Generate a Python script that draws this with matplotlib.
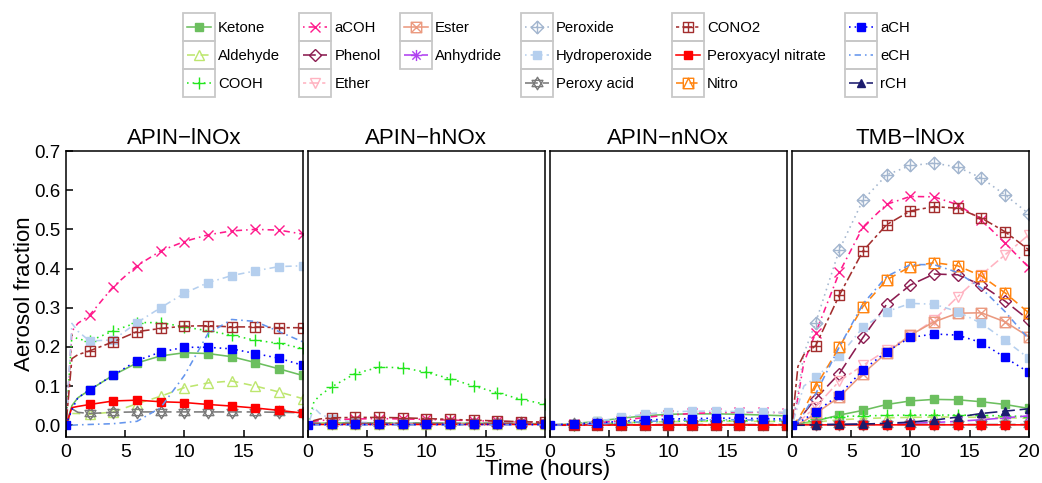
import matplotlib
matplotlib.use('Agg')
import matplotlib.pyplot as plt
from matplotlib.path import Path
from matplotlib.lines import Line2D
from matplotlib.patches import Rectangle, Patch
from matplotlib.legend_handler import HandlerBase

plt.rcParams['font.family'] = ['Liberation Sans', 'DejaVu Sans']

# ---------------- data ----------------
hours = [0, 0.5, 1, 2, 4, 6, 8, 10, 12, 14, 16, 18, 20]
panel_titles = ['APIN\u2212lNOx', 'APIN\u2212hNOx', 'APIN\u2212nNOx', 'TMB\u2212lNOx']
groups = ['Ketone', 'Aldehyde', 'COOH', 'aCOH', 'Phenol', 'Ether', 'Ester', 'Anhydride',
          'Peroxide', 'Hydroperoxide', 'Peroxy acid', 'CONO2', 'Peroxyacyl nitrate', 'Nitro',
          'aCH', 'eCH', 'rCH']

# APIN-lNOx
apin_l = {
    'Ketone':             [0, 0.050, 0.070, 0.090, 0.128, 0.159, 0.177, 0.185, 0.183, 0.175, 0.160, 0.144, 0.127],
    'Aldehyde':           [0, 0.030, 0.030, 0.028, 0.034, 0.055, 0.074, 0.096, 0.108, 0.113, 0.100, 0.085, 0.068],
    'COOH':               [0, 0.230, 0.220, 0.215, 0.241, 0.262, 0.262, 0.251, 0.241, 0.230, 0.217, 0.209, 0.196],
    'aCOH':               [0, 0.240, 0.260, 0.281, 0.354, 0.407, 0.445, 0.469, 0.486, 0.496, 0.500, 0.498, 0.488],
    'Hydroperoxide':      [0, 0.260, 0.240, 0.215, 0.218, 0.262, 0.300, 0.337, 0.364, 0.382, 0.394, 0.405, 0.407],
    'Peroxy acid':        [0, 0.042, 0.033, 0.030, 0.033, 0.034, 0.034, 0.034, 0.034, 0.034, 0.034, 0.033, 0.032],
    'CONO2':              [0, 0.170, 0.180, 0.190, 0.213, 0.239, 0.247, 0.253, 0.254, 0.251, 0.251, 0.249, 0.249],
    'Peroxyacyl nitrate': [0, 0.045, 0.048, 0.053, 0.062, 0.064, 0.060, 0.058, 0.053, 0.049, 0.044, 0.038, 0.031],
    'aCH':                [0, 0.040, 0.070, 0.091, 0.128, 0.165, 0.187, 0.199, 0.199, 0.195, 0.183, 0.171, 0.153],
    'eCH':                [0, 0.000, 0.001, 0.002, 0.004, 0.010, 0.045, 0.127, 0.234, 0.270, 0.265, 0.239, 0.213],
}
# APIN-hNOx
apin_h = {
    'Ketone':             [0, 0.004, 0.005, 0.006, 0.006, 0.006, 0.006, 0.006, 0.005, 0.005, 0.005, 0.004, 0.004],
    'Aldehyde':           [0, 0.002, 0.003, 0.003, 0.004, 0.004, 0.004, 0.004, 0.004, 0.003, 0.003, 0.003, 0.003],
    'COOH':               [0, 0.060, 0.076, 0.098, 0.132, 0.148, 0.147, 0.135, 0.119, 0.100, 0.083, 0.066, 0.054],
    'aCOH':               [0, 0.010, 0.012, 0.014, 0.016, 0.017, 0.016, 0.015, 0.013, 0.012, 0.010, 0.008, 0.007],
    'Hydroperoxide':      [0, 0.045, 0.030, 0.015, 0.008, 0.006, 0.005, 0.005, 0.004, 0.004, 0.004, 0.003, 0.003],
    'Peroxy acid':        [0, 0.006, 0.005, 0.005, 0.005, 0.005, 0.005, 0.005, 0.005, 0.005, 0.005, 0.005, 0.005],
    'CONO2':              [0, 0.012, 0.016, 0.019, 0.020, 0.020, 0.019, 0.017, 0.015, 0.013, 0.011, 0.009, 0.008],
    'Peroxyacyl nitrate': [0, 0.002, 0.002, 0.002, 0.002, 0.002, 0.002, 0.002, 0.002, 0.002, 0.002, 0.002, 0.002],
    'aCH':                [0, 0.002, 0.002, 0.002, 0.002, 0.002, 0.002, 0.002, 0.002, 0.002, 0.002, 0.002, 0.002],
    'eCH':                [0, 0.001, 0.001, 0.001, 0.001, 0.001, 0.001, 0.001, 0.001, 0.001, 0.001, 0.001, 0.001],
}
# APIN-nNOx
apin_n = {
    'Ketone':             [0, 0.001, 0.002, 0.004, 0.010, 0.018, 0.024, 0.028, 0.029, 0.029, 0.028, 0.026, 0.024],
    'Aldehyde':           [0, 0.001, 0.001, 0.002, 0.004, 0.006, 0.008, 0.009, 0.010, 0.010, 0.010, 0.010, 0.009],
    'COOH':               [0, 0.000, 0.001, 0.001, 0.003, 0.006, 0.008, 0.010, 0.011, 0.012, 0.012, 0.012, 0.011],
    'aCOH':               [0, 0.000, 0.001, 0.002, 0.006, 0.012, 0.020, 0.026, 0.030, 0.032, 0.033, 0.033, 0.032],
    'Hydroperoxide':      [0, 0.001, 0.002, 0.004, 0.010, 0.020, 0.028, 0.034, 0.036, 0.036, 0.035, 0.034, 0.032],
    'Peroxy acid':        [0, 0.002, 0.002, 0.002, 0.002, 0.002, 0.002, 0.002, 0.002, 0.002, 0.002, 0.002, 0.002],
    'CONO2':              [0, 0.000, 0.000, 0.000, 0.001, 0.001, 0.001, 0.001, 0.001, 0.001, 0.001, 0.001, 0.001],
    'Peroxyacyl nitrate': [0, 0.000, 0.000, 0.000, 0.000, 0.000, 0.000, 0.000, 0.000, 0.000, 0.000, 0.000, 0.000],
    'aCH':                [0, 0.001, 0.002, 0.003, 0.006, 0.010, 0.013, 0.016, 0.017, 0.018, 0.018, 0.017, 0.016],
    'eCH':                [0, 0.000, 0.001, 0.001, 0.003, 0.006, 0.009, 0.012, 0.013, 0.014, 0.014, 0.013, 0.013],
}
# TMB-lNOx
tmb_l = {
    'Ketone':             [0, 0.003, 0.006, 0.011, 0.026, 0.038, 0.053, 0.062, 0.066, 0.065, 0.060, 0.053, 0.043],
    'Aldehyde':           [0, 0.002, 0.004, 0.008, 0.014, 0.017, 0.019, 0.020, 0.021, 0.021, 0.020, 0.019, 0.018],
    'COOH':               [0, 0.004, 0.008, 0.015, 0.022, 0.024, 0.025, 0.026, 0.026, 0.026, 0.025, 0.024, 0.022],
    'aCOH':               [0, 0.070, 0.160, 0.236, 0.390, 0.506, 0.564, 0.584, 0.583, 0.563, 0.524, 0.465, 0.403],
    'Phenol':             [0, 0.010, 0.030, 0.068, 0.132, 0.224, 0.309, 0.358, 0.386, 0.384, 0.358, 0.317, 0.269],
    'Ether':              [0, 0.010, 0.020, 0.047, 0.113, 0.153, 0.192, 0.228, 0.269, 0.328, 0.384, 0.435, 0.486],
    'Ester':              [0, 0.004, 0.010, 0.030, 0.072, 0.132, 0.185, 0.230, 0.264, 0.286, 0.287, 0.264, 0.226],
    'Anhydride':          [0, 0.001, 0.001, 0.002, 0.002, 0.003, 0.004, 0.005, 0.007, 0.010, 0.014, 0.019, 0.024],
    'Peroxide':           [0, 0.081, 0.183, 0.262, 0.448, 0.575, 0.639, 0.663, 0.669, 0.659, 0.631, 0.588, 0.540],
    'Hydroperoxide':      [0, 0.050, 0.100, 0.122, 0.176, 0.250, 0.290, 0.311, 0.309, 0.290, 0.260, 0.217, 0.171],
    'Peroxy acid':        [0, 0.002, 0.002, 0.002, 0.002, 0.002, 0.002, 0.002, 0.002, 0.002, 0.002, 0.002, 0.002],
    'CONO2':              [0, 0.150, 0.180, 0.203, 0.332, 0.445, 0.512, 0.547, 0.558, 0.554, 0.529, 0.494, 0.448],
    'Peroxyacyl nitrate': [0, 0.001, 0.001, 0.001, 0.001, 0.001, 0.001, 0.001, 0.001, 0.001, 0.001, 0.001, 0.001],
    'Nitro':              [0, 0.015, 0.040, 0.098, 0.200, 0.303, 0.371, 0.405, 0.415, 0.407, 0.381, 0.338, 0.287],
    'aCH':                [0, 0.005, 0.015, 0.034, 0.078, 0.141, 0.188, 0.224, 0.233, 0.230, 0.211, 0.173, 0.135],
    'eCH':                [0, 0.010, 0.030, 0.080, 0.200, 0.310, 0.380, 0.410, 0.410, 0.390, 0.350, 0.290, 0.220],
    'rCH':                [0, 0.000, 0.000, 0.001, 0.002, 0.003, 0.005, 0.008, 0.013, 0.021, 0.030, 0.036, 0.042],
}
panel_data = [apin_l, apin_h, apin_n, tmb_l]

# ---------------- marker shapes ----------------
def compound(parts):
    verts, codes = [], []
    for pts, closed in parts:
        verts.append(pts[0]); codes.append(Path.MOVETO)
        for p in pts[1:]:
            verts.append(p); codes.append(Path.LINETO)
        if closed:
            verts.append(pts[0]); codes.append(Path.CLOSEPOLY)
    return Path(verts, codes)

SQ = [(-1, -1), (1, -1), (1, 1), (-1, 1)]
square_x = compound([(SQ, True), ([(-1, -1), (1, 1)], False), ([(-1, 1), (1, -1)], False)])
square_plus = compound([(SQ, True), ([(-1, 0), (1, 0)], False), ([(0, -1), (0, 1)], False)])
DM = [(0, -1), (1, 0), (0, 1), (-1, 0)]
diamond_plus = compound([(DM, True), ([(-1, 0), (1, 0)], False), ([(0, -1), (0, 1)], False)])
star_david = compound([([(0, 1), (-0.866, -0.5), (0.866, -0.5)], True),
                       ([(0, -1), (-0.866, 0.5), (0.866, 0.5)], True)])
square_tri = compound([(SQ, True), ([(-1, -1), (0, 1), (1, -1)], False)])
asterisk = compound([([(-1, 0), (1, 0)], False), ([(0, -1), (0, 1)], False),
                     ([(-0.75, -0.75), (0.75, 0.75)], False), ([(-0.75, 0.75), (0.75, -0.75)], False)])

DASHED = (0, (5, 3.5))
DOTTED = (0, (1, 2.5))
DOTDASH = (0, (1, 2.5, 4, 2.5))
LONGDASH = (0, (8, 3))
TWODASH = (0, (2, 2, 6, 2))

# color, linestyle, marker, filled, markersize
styles = {
    'Ketone':             ('#6cbf5f', '-',      's',          True,  5.5),
    'Aldehyde':           ('#bde66e', DASHED,   '^',          False, 7.5),
    'COOH':               ('#22e61c', DOTTED,   '+',          False, 9),
    'aCOH':               ('#ff1a8c', DOTDASH,  'x',          False, 6.5),
    'Phenol':             ('#8b1c50', LONGDASH, 'D',          False, 6),
    'Ether':              ('#ffb3c1', TWODASH,  'v',          False, 7.5),
    'Ester':              ('#eb9a80', '-',      square_x,     False, 7.5),
    'Anhydride':          ('#b040f0', LONGDASH, asterisk,     False, 8),
    'Peroxide':           ('#a3b6cf', DOTTED,   diamond_plus, False, 9),
    'Hydroperoxide':      ('#b5cfee', DOTDASH,  's',          True,  5.5),
    'Peroxy acid':        ('#7a7a7a', LONGDASH, star_david,   False, 9),
    'CONO2':              ('#a32e2e', TWODASH,  square_plus,  False, 7.5),
    'Peroxyacyl nitrate': ('#ff0000', '-',      's',          True,  5.5),
    'Nitro':              ('#ff8410', DASHED,   square_tri,   False, 7.5),
    'aCH':                ('#0000ff', DOTTED,   's',          True,  5.5),
    'eCH':                ('#6495ed', DOTDASH,  'None',       False, 5),
    'rCH':                ('#1c1c6e', LONGDASH, '^',          True,  6),
}

LW = 1.15
mark_idx = [i for i, h in enumerate(hours) if h >= 2]
draw_order = [g for g in groups if g != 'aCH'] + ['aCH']

W_PX, H_PX = 1042, 483
fig = plt.figure(figsize=(W_PX / 100, H_PX / 100), dpi=100)

ax_left0, ax_w, ax_step = 66, 236.7, 242.0
ax_top, ax_bot = 151, 437
axes = []
for k in range(4):
    ax = fig.add_axes([(ax_left0 + k * ax_step) / W_PX, 1 - ax_bot / H_PX,
                       ax_w / W_PX, (ax_bot - ax_top) / H_PX])
    axes.append(ax)
    data = panel_data[k]
    for g in draw_order:
        if g not in data:
            continue
        col, ls, mk, filled, ms = styles[g]
        me = ([0] + mark_idx) if g == 'aCH' else mark_idx
        ax.plot(hours, data[g], color=col, linestyle=ls, lw=LW, marker=mk,
                markersize=ms, markevery=me,
                markerfacecolor=col if filled else 'none',
                markeredgecolor=col, markeredgewidth=1.0)
    ax.set_xlim(0, 20)
    ax.set_ylim(-0.03, 0.7)
    ax.set_xticks([0, 5, 10, 15, 20] if k == 3 else [0, 5, 10, 15])
    ax.tick_params(axis='x', direction='in', length=5, width=1.1, labelsize=14, pad=5)
    if k == 0:
        ax.set_yticks([0, 0.1, 0.2, 0.3, 0.4, 0.5, 0.6, 0.7])
        ax.set_yticklabels(['0.0', '0.1', '0.2', '0.3', '0.4', '0.5', '0.6', '0.7'])
        ax.tick_params(axis='y', direction='in', length=5, width=1.1, labelsize=13.5, pad=4)
    else:
        ax.set_yticks([])
    for s in ax.spines.values():
        s.set_linewidth(1.1)
    ax.set_title(panel_titles[k], fontsize=16, pad=5)

fig.text(25 / W_PX, 1 - 294 / H_PX, 'Aerosol fraction', rotation=90, fontsize=16,
         ha='center', va='center')
fig.text(548 / W_PX, 1 - 470 / H_PX, 'Time (hours)', fontsize=16, ha='center', va='center')


# ---------------- legend ----------------
class BoxHandler(HandlerBase):
    def create_artists(self, legend, orig_handle, xdescent, ydescent, width, height,
                       fontsize, trans):
        x0, y0 = -xdescent, -ydescent
        yc = y0 + height / 2
        rect = Rectangle((x0, y0), width, height, facecolor='none', edgecolor='#c8c8c8',
                         lw=1.3, transform=trans)
        pad = 0.12 * width
        ln = Line2D([x0 + pad, x0 + width - pad], [yc, yc])
        ln.update_from(orig_handle)
        ln.set_marker('None')
        ln.set_transform(trans)
        m = Line2D([x0 + width / 2], [yc])
        m.update_from(orig_handle)
        m.set_linestyle('None')
        m.set_transform(trans)
        return [rect, ln, m]


handles, labels = [], []
for g in groups:
    col, ls, mk, filled, ms = styles[g]
    handles.append(Line2D([], [], color=col, linestyle=ls, lw=LW, marker=mk, markersize=ms,
                          markerfacecolor=col if filled else 'none', markeredgecolor=col,
                          markeredgewidth=1.0))
    labels.append(g)
    if g == 'Anhydride':
        handles.append(Patch(facecolor='none', edgecolor='none'))
        labels.append('')

fig.legend(handles, labels, loc='upper left', bbox_to_anchor=(183 / W_PX, 1 - 13 / H_PX),
           ncol=6, frameon=False, borderpad=0, borderaxespad=0, fontsize=10.7,
           handlelength=2.16, handleheight=2.53, handletextpad=0.2, columnspacing=1.29,
           labelspacing=0, handler_map={Line2D: BoxHandler()})

fig.savefig('out.png', dpi=100)
